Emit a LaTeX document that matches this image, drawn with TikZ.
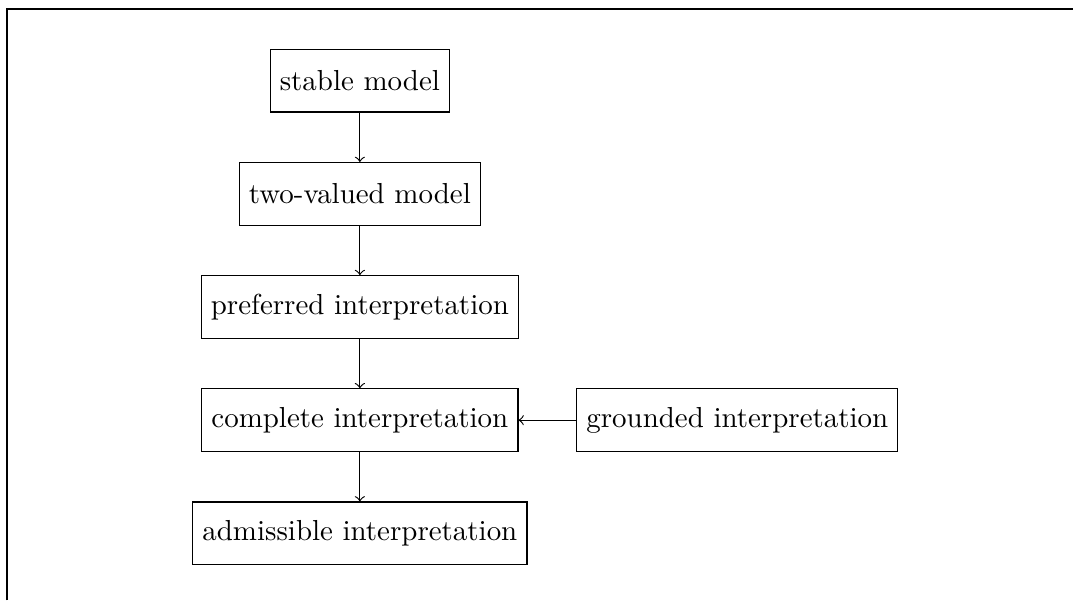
\documentclass[tikz,border=0pt]{standalone}
\usetikzlibrary{positioning}
\begin{document}
\begin{tikzpicture}[
        box/.style = {draw, minimum height = 0.76cm},
        node distance = 0.6cm
    ]
        \useasboundingbox
            (0,0) rectangle (13.03,7.29);
        \draw
            [line width = 0.6pt] (0.085,0)--(0.085,7.18)--(13.03,7.18);
        \node[box] (stable) at (4.37,6.31) {stable model};
        \node[box, below=of stable] (twovalued) {two-valued model};
        \node[box, below=of twovalued] (preferred) {preferred interpretation};
        \node[box, below=of preferred] (complete) {complete interpretation};
        \node[box, below=of complete] (admissible) {admissible interpretation};
        \node[box, right=0.7cm of complete] (grounded) {grounded interpretation};
        \draw
            [->] (stable)--(twovalued);
        \draw
            [->] (twovalued)--(preferred);
        \draw
            [->] (preferred)--(complete);
        \draw
            [->] (complete)--(admissible);
        \draw
            [->] (grounded)--(complete);
    \end{tikzpicture}
\end{document}
